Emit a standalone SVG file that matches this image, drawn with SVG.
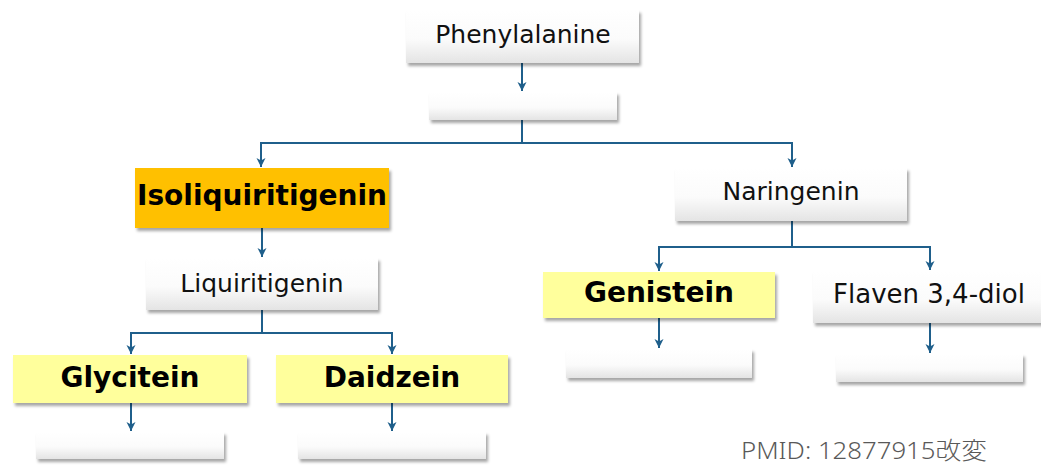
<svg xmlns="http://www.w3.org/2000/svg" width="1041" height="465" viewBox="0 0 1041 465">
<defs>
<linearGradient id="gw" x1="0" y1="0" x2="0" y2="1">
<stop offset="0" stop-color="#ffffff"/>
<stop offset="0.55" stop-color="#fbfbfb"/>
<stop offset="1" stop-color="#e4e4e4"/>
</linearGradient>
<filter id="sh" x="-10%" y="-20%" width="125%" height="150%">
<feDropShadow dx="2" dy="3" stdDeviation="1.6" flood-color="#000" flood-opacity="0.35"/>
</filter>
<marker id="ar" markerUnits="userSpaceOnUse" markerWidth="12" markerHeight="12" viewBox="0 0 12 12" refX="10" refY="6" orient="auto">
<path d="M1 1.5 L10 6 L1 10.5 L3.5 6 Z" fill="#1f5f8b"/>
</marker>
</defs>
<style>
.box{fill:url(#gw);filter:url(#sh);}
.orange{fill:#ffc000;filter:url(#sh);}
.yel{fill:#ffff9c;filter:url(#sh);}
.t{font-family:"DejaVu Sans","Liberation Sans",sans-serif;font-size:25px;fill:#111;text-anchor:middle;}
.b{font-family:"DejaVu Sans","Liberation Sans",sans-serif;font-size:28px;font-weight:bold;fill:#000;text-anchor:middle;}
.c{fill:none;stroke:#1f5f8b;stroke-width:2;}
.note{font-family:"Noto Sans","Noto Sans CJK JP",sans-serif;font-size:24px;font-weight:300;fill:#595959;}
</style>
<rect width="1041" height="465" fill="#ffffff"/>
<g id="connectors">
<path class="c" d="M522 63 V91" marker-end="url(#ar)"/>
<path class="c" d="M522 120 V143 H261 V167" marker-end="url(#ar)"/>
<path class="c" d="M522 143 H792 V167" marker-end="url(#ar)"/>
<path class="c" d="M262 228 V257" marker-end="url(#ar)"/>
<path class="c" d="M262 310 V333 H131 V354" marker-end="url(#ar)"/>
<path class="c" d="M262 333 H392 V354" marker-end="url(#ar)"/>
<path class="c" d="M131 403 V431" marker-end="url(#ar)"/>
<path class="c" d="M392 403 V431" marker-end="url(#ar)"/>
<path class="c" d="M792 221 V247 H659 V271" marker-end="url(#ar)"/>
<path class="c" d="M792 247 H930 V270" marker-end="url(#ar)"/>
<path class="c" d="M659 318 V348" marker-end="url(#ar)"/>
<path class="c" d="M930 323 V353" marker-end="url(#ar)"/>
</g>
<g id="phenylalanine">
<rect class="box" x="406" y="10" width="233" height="53"/>
<text class="t" x="523" y="43">Phenylalanine</text>
</g>
<g id="blank1"><rect class="box" x="429" y="92" width="188" height="28"/></g>
<g id="isoliquiritigenin">
<rect class="orange" x="135" y="168" width="254" height="60"/>
<text class="b" x="262" y="205">Isoliquiritigenin</text>
</g>
<g id="liquiritigenin">
<rect class="box" x="146" y="258" width="232" height="52"/>
<text class="t" x="262" y="292">Liquiritigenin</text>
</g>
<g id="glycitein">
<rect class="yel" x="13" y="355" width="234" height="48"/>
<text class="b" x="130" y="387">Glycitein</text>
</g>
<g id="daidzein">
<rect class="yel" x="276" y="355" width="232" height="48"/>
<text class="b" x="392" y="387">Daidzein</text>
</g>
<g id="blank2"><rect class="box" x="36" y="432" width="188" height="27"/></g>
<g id="blank3"><rect class="box" x="298" y="432" width="188" height="27"/></g>
<g id="naringenin">
<rect class="box" x="675" y="168" width="232" height="53"/>
<text class="t" x="791" y="200">Naringenin</text>
</g>
<g id="genistein">
<rect class="yel" x="543" y="272" width="232" height="46"/>
<text class="b" x="659" y="302">Genistein</text>
</g>
<g id="flaven">
<rect class="box" x="813" y="271" width="230" height="52"/>
<text class="t" x="929" y="303" style="font-size:26px">Flaven 3,4-diol</text>
</g>
<g id="blank4"><rect class="box" x="566" y="349" width="186" height="29"/></g>
<g id="blank5"><rect class="box" x="836" y="354" width="187" height="28"/></g>
<text class="note" x="741" y="459" textLength="246" lengthAdjust="spacingAndGlyphs">PMID: 12877915改変</text>
</svg>
